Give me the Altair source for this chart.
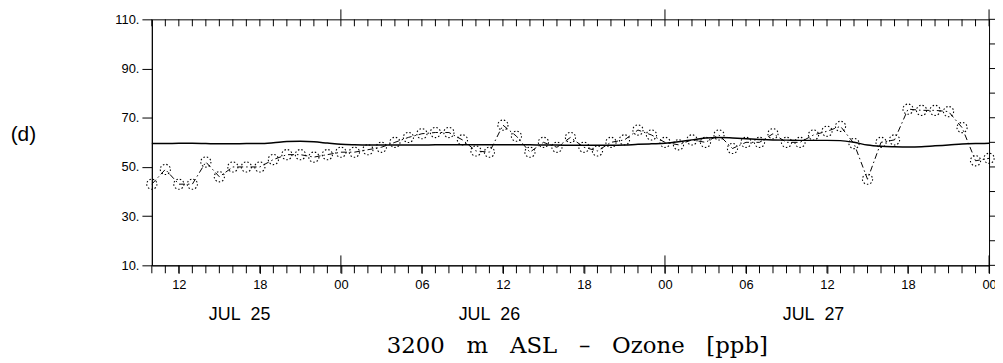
import altair as alt
import pandas as pd

# hourly time stamps, JUL 25 10:00 .. JUL 28 00:00 (UTC)
times = pd.date_range("2000-07-25 10:00", "2000-07-28 00:00", freq="h")
time_str = [t.strftime("%Y-%m-%dT%H:%M:%SZ") for t in times]
time_ms = [int(t.value // 10**6) for t in times]
label_ms = [int(t.value // 10**6) for t in times if t.hour % 6 == 0]

# observed ozone (dash-dot with markers)
obs_values = [43, 49, 43, 43, 52, 46, 50, 50, 50, 53, 55,
              55, 54, 55, 56, 56, 57, 58, 60, 62, 63.5,
              64, 64, 61, 56.5, 56, 67, 62.5, 56, 60, 58,
              62, 58, 56.5, 60, 61, 65, 63, 60, 59, 61,
              60, 63, 57.5, 60, 60, 63.5, 60, 60, 63, 64.5,
              66.5, 59.5, 45, 60, 61, 73.5, 73, 73, 72.5, 66,
              52.5, 53.5]

# model ozone (solid)
model_values = [59.5, 59.5, 59.6, 59.6, 59.5, 59.4, 59.4, 59.5, 59.5,
                59.8, 60.3, 60.4, 60.2, 59.7,
                59.2, 59.0, 58.9, 58.9, 58.9, 58.9, 58.9, 59.0, 59.0, 59.0, 59.0,
                59.0, 59.0, 59.0, 59.0, 58.9, 58.9, 58.8, 58.8, 58.8, 58.8, 58.9,
                59.2, 59.4, 59.6, 60.2, 61.0, 61.8, 62.0, 61.8, 61.5, 61.2, 61.0,
                60.9, 60.8, 60.8, 60.8, 60.7, 60.0, 58.9, 58.4, 58.2, 58.1, 58.2,
                58.6, 58.9, 59.3, 59.5, 59.6]

y_ticks = list(range(10, 111, 10))
day_starts = [t for t in time_str if t.endswith("T00:00:00Z")]
date_labels = ["JUL\u00a0\u00a025", "JUL\u00a0\u00a026", "JUL\u00a0\u00a027"]
date_label_times = ["2000-07-25T16:30:00Z", "2000-07-26T11:00:00Z", "2000-07-27T11:00:00Z"]
SP = "\u00a0\u00a0\u00a0"
title_text = SP.join(["3200", "m", "ASL", "\u2013", "Ozone", "[ppb]"])

W, H = 844, 248
SANS = "Liberation Sans"

df = pd.DataFrame({"t": time_str, "obs": obs_values, "model": model_values})
df_hours = pd.DataFrame({"t": time_str})
df_days = pd.DataFrame({"t": day_starts})
df_yt = pd.DataFrame({"v": y_ticks})
df_dates = pd.DataFrame({"t": date_label_times, "label": date_labels})
df_title = pd.DataFrame({"label": [title_text]})

xscale = alt.Scale(type="utc", domain=[time_ms[0], time_ms[-1]])
yscale = alt.Scale(domain=[10, 110], nice=False, zero=False)

x_axis = alt.Axis(values=label_ms, labelExpr="utcFormat(datum.value, '%H')",
                  tickSize=8, tickColor="black", domainColor="black", tickWidth=1,
                  labelFont=SANS, labelFontSize=13, labelColor="black",
                  labelPadding=5, labelOverlap=False, labelFlush=False,
                  grid=False, title=None)
y_axis = alt.Axis(values=y_ticks,
                  labelExpr="datum.value % 20 == 10 ? datum.value + '.' : ''",
                  labelOverlap=False,
                  tickSize=10, tickColor="black", domainColor="black",
                  labelFont=SANS, labelFontSize=13, labelColor="black", labelPadding=3,
                  grid=False, title="(d)", titleAngle=0, titleX=-130, titleY=116,
                  titleFont=SANS, titleFontSize=21, titleFontWeight="normal",
                  titleAlign="center", titleBaseline="middle", titleColor="black")

base = alt.Chart(df)

model_line = base.mark_line(color="black", strokeWidth=1.5, interpolate="monotone").encode(
    x=alt.X("t:T", scale=xscale, axis=x_axis),
    y=alt.Y("model:Q", scale=yscale, axis=y_axis),
)
obs_line = base.mark_line(color="black", strokeWidth=1, strokeDash=[6, 3, 1.5, 3]).encode(
    x=alt.X("t:T"),
    y=alt.Y("obs:Q"),
)
obs_pts = base.mark_point(shape="circle", filled=False, color="black", strokeWidth=1.1,
                          strokeDash=[1.5, 2], size=105, opacity=1).encode(
    x=alt.X("t:T"),
    y=alt.Y("obs:Q"),
)

# hourly minor ticks: inward on top, outward on bottom
top_ticks = alt.Chart(df_hours).mark_rule(color="black", strokeWidth=1).encode(
    x=alt.X("t:T"), y=alt.value(0), y2=alt.value(7))
bot_ticks = alt.Chart(df_hours).mark_rule(color="black", strokeWidth=1).encode(
    x=alt.X("t:T"), y=alt.value(H), y2=alt.value(H + 8))
# day-boundary ticks crossing the frame
day_top = alt.Chart(df_days).mark_rule(color="black", strokeWidth=1).encode(
    x=alt.X("t:T"), y=alt.value(-10), y2=alt.value(0))
day_bot = alt.Chart(df_days).mark_rule(color="black", strokeWidth=1).encode(
    x=alt.X("t:T"), y=alt.value(H - 10), y2=alt.value(H))
right_ticks = alt.Chart(df_yt).mark_rule(color="black", strokeWidth=1).encode(
    y=alt.Y("v:Q"), x=alt.value(W), x2=alt.value(W + 10))

date_text = alt.Chart(df_dates).mark_text(font=SANS, fontSize=18, color="black",
                                          baseline="middle", align="center").encode(
    x=alt.X("t:T"), y=alt.value(H + 50), text="label:N")
title = alt.Chart(df_title).mark_text(font="DejaVu Serif", fontSize=23, color="black",
                                      baseline="middle", align="center").encode(
    x=alt.value(W / 2 + 7), y=alt.value(H + 81), text="label:N")

chart = alt.layer(model_line, obs_line, obs_pts, top_ticks, bot_ticks, day_top, day_bot,
                  right_ticks, date_text, title).properties(
    width=W, height=H,
    padding={"left": 145, "top": 10, "right": 6, "bottom": 95},
    autosize=alt.AutoSizeParams(type="none"),
).configure_view(stroke="black", strokeWidth=1)

chart.save("out.html", embed_options={"renderer": "svg", "actions": False})
